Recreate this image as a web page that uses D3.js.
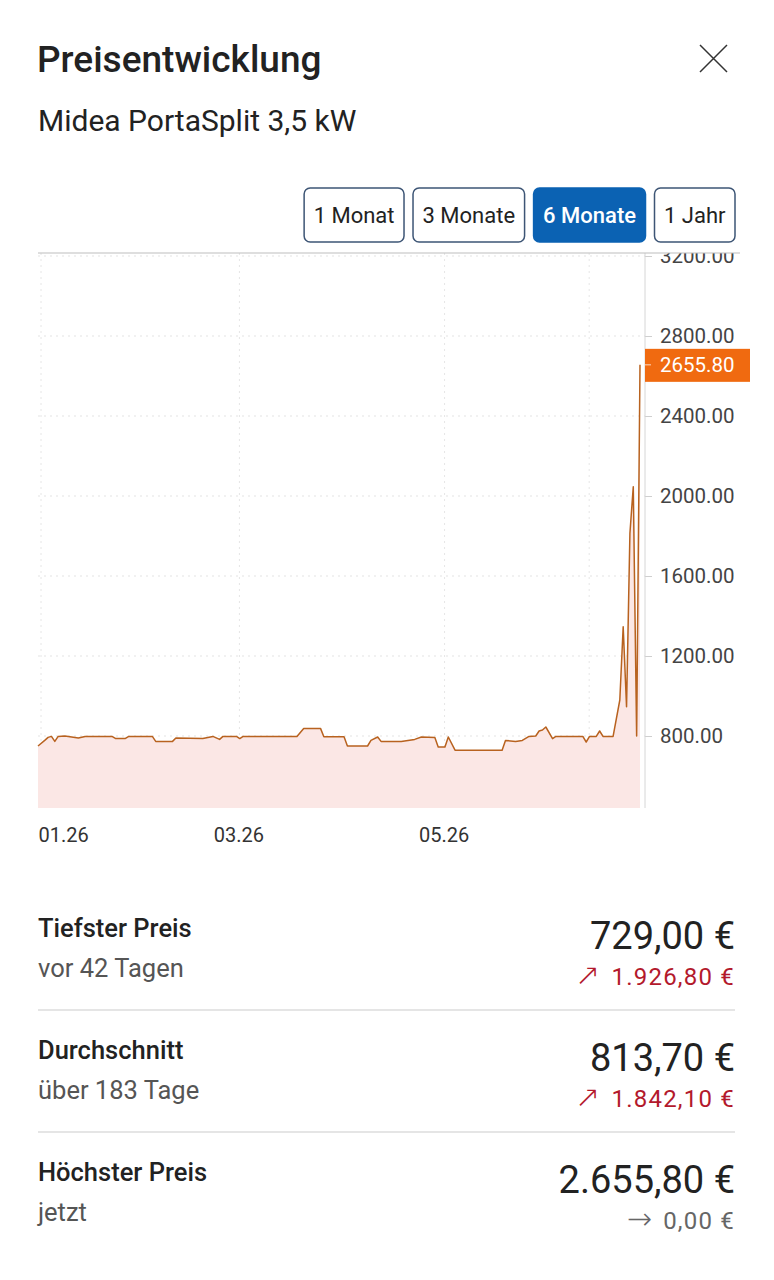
<!DOCTYPE html>
<html>
<head>
<meta charset="utf-8">
<script src="https://cdn.jsdelivr.net/npm/d3@7"></script>
<style>
  body { margin: 0; background: #fff; }
  svg { display: block; font-family: Roboto, "Noto Sans", sans-serif; }
</style>
</head>
<body>
<div class="canvas"></div>
<script>
// price history
const dates = [
  '2026-01-01', '2026-01-03', '2026-01-04', '2026-01-05', '2026-01-06', '2026-01-07', '2026-01-09',
  '2026-01-13', '2026-01-15', '2026-01-23', '2026-01-24', '2026-01-27', '2026-01-28',
  '2026-02-04', '2026-02-05', '2026-02-10', '2026-02-11', '2026-02-19', '2026-02-22', '2026-02-24',
  '2026-02-25', '2026-03-01', '2026-03-02', '2026-03-03', '2026-03-19', '2026-03-21', '2026-03-26',
  '2026-03-27', '2026-04-02', '2026-04-03', '2026-04-09', '2026-04-10', '2026-04-12', '2026-04-13',
  '2026-04-19', '2026-04-23', '2026-04-25', '2026-04-29', '2026-04-30', '2026-05-02', '2026-05-03',
  '2026-05-05', '2026-05-19', '2026-05-20', '2026-05-23', '2026-05-25', '2026-05-27', '2026-05-29',
  '2026-05-30', '2026-05-31', '2026-06-01', '2026-06-03', '2026-06-04', '2026-06-12', '2026-06-13',
  '2026-06-14', '2026-06-16', '2026-06-17', '2026-06-18', '2026-06-21', '2026-06-23', '2026-06-24',
  '2026-06-25', '2026-06-26', '2026-06-27', '2026-06-28', '2026-06-29'
];
const prices = [
  750, 778, 793, 798, 773, 798, 800,
  790, 798, 798, 788, 788, 798,
  798, 773, 773, 790, 787, 798, 783,
  798, 798, 787, 798, 798, 838, 838,
  796, 796, 750, 750, 778, 795, 773,
  773, 783, 795, 792, 745, 745, 795,
  729, 729, 778, 773, 778, 798, 800,
  825, 830, 845, 787, 798, 798, 770,
  798, 798, 825, 798, 798, 980, 1346,
  946, 1813, 2046, 800, 2655.8
];

const yTicks = [800, 1200, 1600, 2000, 2400, 2800, 3200];
const xTickDates = ['2026-01-01', '2026-03-01', '2026-05-01'];
const extraGridDates = ['2026-06-13'];
const currentPrice = 2655.80;

const rangeLabels = ['1 Monat', '3 Monate', '6 Monate', '1 Jahr'];
const activeRange = '6 Monate';

const statLabels = ['Tiefster Preis', 'Durchschnitt', 'Höchster Preis'];
const statSubs = ['vor 42 Tagen', 'über 183 Tage', 'jetzt'];
const statValues = ['729,00 €', '813,70 €', '2.655,80 €'];
const statArrows = ['↗', '↗', '→'];
const statDiffs = ['1.926,80 €', '1.842,10 €', '0,00 €'];
const statUp = [true, true, false];

const W = 774, H = 1280;
const parse = d3.utcParse('%Y-%m-%d');
const data = dates.map((d, i) => ({ date: parse(d), price: prices[i] }));

const svg = d3.select('.canvas')
  .append('svg')
  .attr('width', W)
  .attr('height', H);

svg.append('rect').attr('width', W).attr('height', H).attr('fill', '#fff');

// header
svg.append('text')
  .attr('x', 37).attr('y', 72)
  .attr('font-size', 37).attr('font-weight', 500).attr('fill', '#222')
  .text('Preisentwicklung');

svg.append('text')
  .attr('x', 38).attr('y', 131)
  .attr('font-size', 30).attr('fill', '#222')
  .text('Midea PortaSplit 3,5 kW');

svg.append('path')
  .attr('d', 'M700,45 L727,72 M727,45 L700,72')
  .attr('stroke', '#333').attr('stroke-width', 1.5).attr('fill', 'none');

// range buttons, laid out right to left
const btns = svg.append('g').selectAll('g').data(rangeLabels).enter().append('g');
btns.append('text')
  .attr('font-size', 22)
  .attr('font-weight', d => d === activeRange ? 500 : 400)
  .attr('fill', d => d === activeRange ? '#fff' : '#222')
  .attr('y', 223)
  .text(d => d);
let right = 735;
const widths = btns.nodes().map(n => n.querySelector('text').getComputedTextLength() + 19);
for (let i = rangeLabels.length - 1; i >= 0; i--) {
  const w = widths[i];
  const x0 = right - w;
  const g = d3.select(btns.nodes()[i]);
  g.insert('rect', 'text')
    .attr('x', x0).attr('y', 188).attr('width', w).attr('height', 54).attr('rx', 6)
    .attr('fill', rangeLabels[i] === activeRange ? '#0b62b3' : '#fff')
    .attr('stroke', rangeLabels[i] === activeRange ? '#0b62b3' : '#3d5575')
    .attr('stroke-width', 1.5);
  g.select('text').attr('x', x0 + 9.5);
  right = x0 - 9;
}

// chart
const plot = { left: 38, right: 640, top: 253, bottom: 808, axis: 645 };

const x = d3.scaleUtc()
  .domain(d3.extent(data, d => d.date))
  .range([plot.left, plot.right]);

const y = d3.scaleLinear()
  .domain([440, 3200])
  .range([plot.bottom, 256]);

svg.append('clipPath').attr('id', 'clip')
  .append('rect').attr('x', 0).attr('y', plot.top).attr('width', W).attr('height', plot.bottom - plot.top + 60);

const chart = svg.append('g').attr('clip-path', 'url(#clip)');

// grid
chart.append('g').selectAll('line')
  .data(yTicks).enter().append('line')
  .attr('x1', plot.left).attr('x2', plot.axis)
  .attr('y1', d => y(d)).attr('y2', d => y(d))
  .attr('stroke', '#e3e3e3').attr('stroke-dasharray', '2,4');

chart.append('g').selectAll('line')
  .data(xTickDates.concat(extraGridDates).map(parse)).enter().append('line')
  .attr('x1', d => x(d) + 3).attr('x2', d => x(d) + 3)
  .attr('y1', plot.top).attr('y2', plot.bottom)
  .attr('stroke', '#e6e6e6').attr('stroke-dasharray', '2,4');

// area + line
const area = d3.area()
  .x(d => x(d.date))
  .y0(plot.bottom)
  .y1(d => y(d.price));

const line = d3.line()
  .x(d => x(d.date))
  .y(d => y(d.price));

chart.append('path').datum(data)
  .attr('d', area)
  .attr('fill', '#fbe7e5');

chart.append('path').datum(data)
  .attr('d', line)
  .attr('fill', 'none')
  .attr('stroke', '#b8621f')
  .attr('stroke-width', 1.5)
  .attr('stroke-linejoin', 'round');

// y axis on the right
const yAxis = d3.axisRight(y)
  .tickValues(yTicks)
  .tickSize(7)
  .tickPadding(8)
  .tickFormat(d3.format('.2f'));

const yAxisGroup = chart.append('g')
  .attr('transform', `translate(${plot.axis}, 0)`)
  .call(yAxis);

yAxisGroup.select('.domain').remove();
yAxisGroup.selectAll('line').attr('stroke', '#cfcfcf');
yAxisGroup.selectAll('text')
  .attr('font-family', 'Roboto, sans-serif')
  .attr('font-size', 20.5)
  .attr('fill', '#444');

chart.append('line')
  .attr('x1', plot.axis).attr('x2', plot.axis)
  .attr('y1', plot.top).attr('y2', plot.bottom)
  .attr('stroke', '#d6d6d6');

svg.append('line')
  .attr('x1', plot.left).attr('x2', 740)
  .attr('y1', plot.top).attr('y2', plot.top)
  .attr('stroke', '#bdbdbd').attr('stroke-width', 1.2);

// current price marker
const cy = y(currentPrice);
svg.append('rect')
  .attr('x', plot.axis).attr('y', cy - 16).attr('width', 105).attr('height', 33)
  .attr('fill', '#f06a10');
svg.append('line')
  .attr('x1', plot.axis).attr('x2', plot.axis + 6)
  .attr('y1', cy).attr('y2', cy)
  .attr('stroke', '#ffd9bf');
svg.append('text')
  .attr('x', plot.axis + 15).attr('y', cy)
  .attr('dy', '0.35em')
  .attr('font-size', 20.5).attr('fill', '#fff')
  .text(d3.format('.2f')(currentPrice));

// x axis labels
const xAxis = d3.axisBottom(x)
  .tickValues(xTickDates.map(parse))
  .tickSize(0)
  .tickPadding(0)
  .tickFormat(d3.utcFormat('%m.%y'));

const xAxisGroup = svg.append('g')
  .attr('transform', `translate(0, 826)`)
  .call(xAxis);
xAxisGroup.select('.domain').remove();
xAxisGroup.selectAll('text')
  .attr('font-family', 'Roboto, sans-serif')
  .attr('font-size', 20)
  .attr('fill', '#333')
  .attr('dy', '0.8em')
  .attr('text-anchor', (d, i) => i === 0 ? 'start' : 'middle')
  .attr('x', (d, i) => i === 0 ? 0 : 2);

// stats rows
const rowTop = 937, rowStep = 122;
const rows = svg.append('g').selectAll('g')
  .data(statLabels).enter().append('g')
  .attr('transform', (d, i) => `translate(0, ${rowTop + i * rowStep})`);

rows.append('text')
  .attr('x', 38).attr('y', 0)
  .attr('font-size', 25.5).attr('font-weight', 500).attr('fill', '#222')
  .text(d => d);

rows.append('text')
  .attr('x', 38).attr('y', 40)
  .attr('font-size', 25.5).attr('fill', '#555')
  .text((d, i) => statSubs[i]);

rows.append('text')
  .attr('x', 735).attr('y', 12)
  .attr('text-anchor', 'end')
  .attr('font-size', 38).attr('fill', '#222')
  .text((d, i) => statValues[i]);

const diff = rows.append('text')
  .attr('x', 735).attr('y', 48)
  .attr('text-anchor', 'end')
  .attr('font-size', 24)
  .attr('letter-spacing', 1.2)
  .attr('fill', (d, i) => statUp[i] ? '#b3192c' : '#666');
diff.append('tspan')
  .attr('font-family', '"DejaVu Sans", sans-serif')
  .attr('font-size', 30)
  .attr('font-weight', 200)
  .text((d, i) => statArrows[i]);
diff.append('tspan').attr('dx', 10).text((d, i) => statDiffs[i]);

svg.append('g').selectAll('line')
  .data([0, 1]).enter().append('line')
  .attr('x1', 38).attr('x2', 735)
  .attr('y1', d => rowTop + 73 + d * rowStep)
  .attr('y2', d => rowTop + 73 + d * rowStep)
  .attr('stroke', '#dcdcdc').attr('stroke-width', 1.5);
</script>
</body>
</html>
